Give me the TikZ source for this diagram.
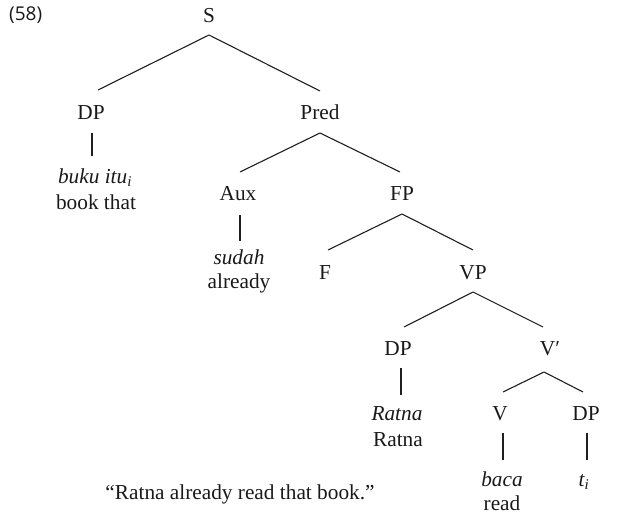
\documentclass[tikz,border=0pt]{standalone}
\usepackage{fontspec}
\setmainfont{Liberation Serif}
\newfontfamily\numfont{Open Sans}
\begin{document}
\begin{tikzpicture}[x=1pt,y=-1pt,
  lbl/.style={inner sep=0pt,anchor=base,font=\fontsize{21.3}{26}\selectfont,text=black!90},
  br/.style={line width=1.1pt,black!88}]
\useasboundingbox (0,0) rectangle (643,519);
% example number
\node[inner sep=0pt,anchor=base west,text=black!90,font=\numfont\fontsize{19}{22}\selectfont] (num) at (9,21) {(58)};
% category labels
\node[lbl] (S)    at (209,23)  {S};
\node[lbl] (DP1)  at (91,120)  {DP};
\node[lbl] (Pred) at (320,120) {Pred};
\node[lbl] (Aux)  at (238,200) {Aux};
\node[lbl] (FP)   at (402,200) {FP};
\node[lbl] (F)    at (325,279) {F};
\node[lbl] (VP)   at (473,279) {VP};
\node[lbl] (DP2)  at (398,355) {DP};
\node[lbl] (Vbar) at (550,355) {V′};
\node[lbl] (V)    at (500,420) {V};
\node[lbl] (DP3)  at (586,420) {DP};
% lexical items and glosses
\node[lbl] (w1) at (95,183)  {\textit{buku itu\textsubscript{i}}};
\node[lbl] (g1) at (96,209)  {book that};
\node[lbl] (w2) at (239,264) {\textit{sudah}};
\node[lbl] (g2) at (239,288) {already};
\node[lbl] (w3) at (397,420) {\textit{Ratna}};
\node[lbl] (g3) at (398,446) {Ratna};
\node[lbl] (w4) at (502,486) {\textit{baca}};
\node[lbl] (g4) at (502,510) {read};
\node[lbl] (w5) at (584,486) {\textit{t\textsubscript{i}}};
% free translation
\node[lbl] (tr) at (240,499) {“Ratna already read that book.”};
% branches
\draw[br] ([yshift=-12pt]S.base) -- ([xshift=7pt,yshift=30pt]DP1.base);
\draw[br] ([yshift=-12pt]S.base) -- ([yshift=29pt]Pred.base);
\draw[br] ([xshift=1pt,yshift=-13pt]DP1.base) -- ([xshift=-3pt,yshift=27pt]w1.base);
\draw[br] ([yshift=-13pt]Pred.base) -- ([xshift=2pt,yshift=28pt]Aux.base);
\draw[br] ([yshift=-13pt]Pred.base) -- ([xshift=-2pt,yshift=28pt]FP.base);
\draw[br] ([xshift=2pt,yshift=-15pt]Aux.base) -- ([xshift=1pt,yshift=23pt]w2.base);
\draw[br] ([yshift=-14pt]FP.base) -- ([xshift=3pt,yshift=29pt]F.base);
\draw[br] ([yshift=-14pt]FP.base) -- ([yshift=29pt]VP.base);
\draw[br] ([yshift=-13pt]VP.base) -- ([xshift=6pt,yshift=28pt]DP2.base);
\draw[br] ([yshift=-13pt]VP.base) -- ([xshift=-7pt,yshift=28pt]Vbar.base);
\draw[br] ([xshift=3pt,yshift=-13pt]DP2.base) -- ([xshift=4pt,yshift=25pt]w3.base);
\draw[br] ([xshift=-6pt,yshift=-17pt]Vbar.base) -- ([xshift=3pt,yshift=28pt]V.base);
\draw[br] ([xshift=-6pt,yshift=-17pt]Vbar.base) -- ([xshift=-3pt,yshift=28pt]DP3.base);
\draw[br] ([xshift=3pt,yshift=-13pt]V.base) -- ([xshift=1pt,yshift=26pt]w4.base);
\draw[br] ([xshift=1pt,yshift=-13pt]DP3.base) -- ([xshift=3pt,yshift=26pt]w5.base);
\end{tikzpicture}
\end{document}
